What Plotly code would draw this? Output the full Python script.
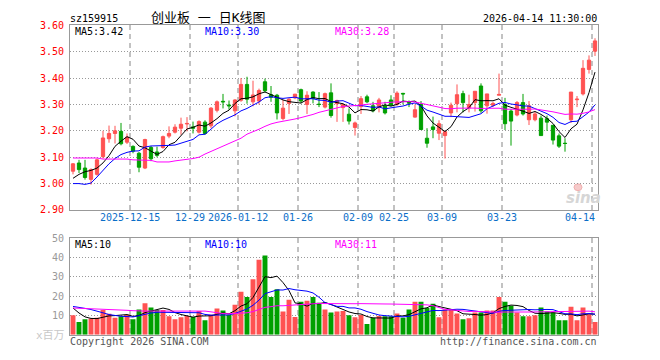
import plotly.graph_objects as go
import pandas as pd

W, H = 660, 360

dates = [
    "2025-12-01", "2025-12-02", "2025-12-03", "2025-12-04", "2025-12-05", "2025-12-08", "2025-12-09", "2025-12-10",
    "2025-12-11", "2025-12-12", "2025-12-15", "2025-12-16", "2025-12-17", "2025-12-18", "2025-12-19", "2025-12-22",
    "2025-12-23", "2025-12-24", "2025-12-25", "2025-12-26", "2025-12-29", "2025-12-30", "2025-12-31",
    "2026-01-05", "2026-01-06", "2026-01-07", "2026-01-08", "2026-01-09", "2026-01-12", "2026-01-13", "2026-01-14",
    "2026-01-15", "2026-01-16", "2026-01-19", "2026-01-20", "2026-01-21", "2026-01-22", "2026-01-23", "2026-01-26",
    "2026-01-27", "2026-01-28", "2026-01-29", "2026-01-30",
    "2026-02-02", "2026-02-03", "2026-02-04", "2026-02-05", "2026-02-06", "2026-02-09", "2026-02-10", "2026-02-11",
    "2026-02-12", "2026-02-13", "2026-02-24", "2026-02-25", "2026-02-26", "2026-02-27",
    "2026-03-02", "2026-03-03", "2026-03-04", "2026-03-05", "2026-03-06", "2026-03-09", "2026-03-10", "2026-03-11",
    "2026-03-12", "2026-03-13", "2026-03-16", "2026-03-17", "2026-03-18", "2026-03-19", "2026-03-20", "2026-03-23",
    "2026-03-24", "2026-03-25", "2026-03-26", "2026-03-27", "2026-03-30", "2026-03-31",
    "2026-04-01", "2026-04-02", "2026-04-03", "2026-04-07", "2026-04-08", "2026-04-09", "2026-04-10", "2026-04-13",
    "2026-04-14",
]

open_ = [3.047, 3.078, 3.059, 3.016, 3.035, 3.102, 3.170, 3.190, 3.198, 3.157,
         3.141, 3.115, 3.059, 3.137, 3.120, 3.137, 3.180, 3.195, 3.210, 3.226,
         3.215, 3.195, 3.233, 3.219, 3.278, 3.312, 3.298, 3.276, 3.316, 3.376,
         3.310, 3.313, 3.386, 3.337, 3.335, 3.247, 3.304, 3.325, 3.356, 3.300,
         3.347, 3.301, 3.290, 3.344, 3.303, 3.288, 3.263, 3.213, 3.292, 3.329,
         3.295, 3.289, 3.295, 3.317, 3.300, 3.342, 3.310, 3.252, 3.300, 3.172,
         3.215, 3.191, 3.182, 3.268, 3.303, 3.341, 3.287, 3.307, 3.370, 3.295,
         3.297, 3.335, 3.300, 3.275, 3.260, 3.307, 3.242, 3.242, 3.248, 3.246,
         3.221, 3.181, 3.153, 3.242, 3.318, 3.340, 3.433, 3.502]
high = [3.078, 3.090, 3.090, 3.058, 3.095, 3.200, 3.220, 3.219, 3.230, 3.190,
        3.145, 3.120, 3.170, 3.143, 3.140, 3.182, 3.217, 3.225, 3.250, 3.252,
        3.235, 3.240, 3.240, 3.290, 3.315, 3.340, 3.315, 3.320, 3.400, 3.405,
        3.390, 3.360, 3.398, 3.370, 3.340, 3.317, 3.323, 3.340, 3.360, 3.350,
        3.350, 3.347, 3.345, 3.380, 3.318, 3.300, 3.285, 3.235, 3.332, 3.337,
        3.310, 3.325, 3.310, 3.335, 3.350, 3.344, 3.315, 3.300, 3.313, 3.210,
        3.254, 3.240, 3.200, 3.307, 3.376, 3.352, 3.337, 3.350, 3.380, 3.340,
        3.310, 3.417, 3.325, 3.283, 3.313, 3.340, 3.313, 3.272, 3.258, 3.258,
        3.222, 3.190, 3.172, 3.347, 3.332, 3.468, 3.486, 3.551]
low = [3.035, 3.040, 3.015, 2.996, 3.030, 3.095, 3.155, 3.152, 3.145, 3.150,
       3.115, 3.043, 3.055, 3.085, 3.100, 3.132, 3.172, 3.190, 3.185, 3.198,
       3.190, 3.190, 3.185, 3.210, 3.270, 3.285, 3.280, 3.255, 3.310, 3.303,
       3.293, 3.300, 3.345, 3.310, 3.243, 3.240, 3.264, 3.320, 3.305, 3.264,
       3.304, 3.290, 3.285, 3.250, 3.234, 3.234, 3.224, 3.182, 3.264, 3.305,
       3.270, 3.270, 3.262, 3.295, 3.295, 3.300, 3.290, 3.250, 3.205, 3.136,
       3.172, 3.165, 3.095, 3.252, 3.270, 3.270, 3.270, 3.273, 3.268, 3.265,
       3.290, 3.335, 3.203, 3.144, 3.255, 3.258, 3.222, 3.236, 3.182, 3.200,
       3.148, 3.135, 3.121, 3.230, 3.290, 3.334, 3.417, 3.484]
close = [3.075, 3.053, 3.023, 3.053, 3.090, 3.173, 3.190, 3.200, 3.151, 3.176,
         3.123, 3.062, 3.167, 3.094, 3.107, 3.178, 3.190, 3.214, 3.225, 3.228,
         3.210, 3.235, 3.190, 3.286, 3.310, 3.310, 3.295, 3.317, 3.376, 3.320,
         3.336, 3.353, 3.352, 3.327, 3.268, 3.286, 3.320, 3.339, 3.313, 3.335,
         3.323, 3.300, 3.341, 3.258, 3.315, 3.300, 3.237, 3.230, 3.322, 3.310,
         3.276, 3.317, 3.268, 3.297, 3.343, 3.340, 3.305, 3.280, 3.205, 3.153,
         3.205, 3.227, 3.197, 3.297, 3.337, 3.307, 3.300, 3.350, 3.276, 3.340,
         3.304, 3.338, 3.227, 3.237, 3.307, 3.264, 3.295, 3.264, 3.182, 3.233,
         3.165, 3.142, 3.152, 3.347, 3.320, 3.437, 3.468, 3.541]
volume = [10.0, 6.5, 8.0, 8.3, 8.8, 12.7, 10.8, 8.7, 9.5, 10.3,
          8.0, 13.0, 16.2, 14.0, 12.8, 12.8, 9.5, 8.0, 9.0, 9.7,
          9.2, 12.2, 7.5, 10.3, 13.5, 12.5, 10.3, 15.5, 22.2, 19.5,
          28.7, 38.7, 41.0, 19.5, 23.5, 12.0, 18.0, 9.2, 17.0, 17.5,
          19.5, 16.5, 13.0, 11.5, 12.0, 12.2, 10.0, 9.0, 10.2, 5.5,
          8.7, 9.7, 9.5, 9.5, 11.0, 8.8, 13.0, 17.0, 17.0, 13.8,
          16.0, 9.0, 13.0, 13.0, 11.0, 8.0, 8.5, 11.5, 11.5, 12.5,
          12.5, 19.5, 17.0, 15.0, 11.5, 9.5, 9.5, 10.0, 14.0, 12.0,
          11.5, 7.5, 7.5, 14.5, 7.5, 14.0, 10.5, 6.5]

# moving-average values before a full window exists
ma5_head = [3.020, 3.035, 3.045, 3.050]
ma10_head = [3.000, 3.000, 2.997, 3.002, 3.025, 3.050, 3.075, 3.095, 3.110]
ma30_head = [3.097, 3.097, 3.097, 3.097, 3.097, 3.093, 3.093, 3.093, 3.093, 3.093,
             3.090, 3.090, 3.090, 3.088, 3.082, 3.082, 3.082, 3.086, 3.088, 3.092,
             3.095, 3.100, 3.112, 3.122, 3.135, 3.145, 3.155, 3.163, 3.172]
vma5_head = [13.8, 11.2, 9.2, 8.4]
vma10_head = [14.6, 14.2, 13.6, 13.0, 12.3, 11.3, 10.4, 9.8, 9.5]
vma30_head = [13.8, 13.7, 13.6, 13.5, 13.4, 13.3, 13.2, 13.1, 12.9, 12.6,
              12.4, 12.2, 12.2, 12.2, 12.2, 12.2, 12.2, 12.2, 12.2, 12.2,
              12.2, 12.2, 12.2, 11.8, 11.2, 10.9, 10.8, 11.0, 11.3]

tick_dates = ["2025-12-15", "2025-12-29", "2026-01-12", "2026-01-26", "2026-02-09",
              "2026-02-25", "2026-03-09", "2026-03-23", "2026-04-14"]
tick_labels = ["2025-12-15", "12-29", "2026-01-12", "01-26", "02-09", "02-25", "03-09", "03-23", "04-14"]

price_ticks = [2.90, 3.00, 3.10, 3.20, 3.30, 3.40, 3.50, 3.60]
vol_ticks = [10, 20, 30, 40, 50]

ma_labels = ["MA5:3.42", "MA10:3.30", "MA30:3.28"]
vma_labels = ["MA5:10", "MA10:10", "MA30:11"]

RED = "#ff5252"
GREEN = "#00a000"
MA_COLORS = ["#000000", "#0000ff", "#ff00ff"]


def rolling_with_head(values, n, head):
    s = pd.Series(values, dtype=float).rolling(n).mean()
    s.iloc[:len(head)] = head
    return s.tolist()


xs = list(range(len(dates)))
ma = [rolling_with_head(close, 5, ma5_head), rolling_with_head(close, 10, ma10_head),
      rolling_with_head(close, 30, ma30_head)]
vma = [rolling_with_head(volume, 5, vma5_head), rolling_with_head(volume, 10, vma10_head),
       rolling_with_head(volume, 30, vma30_head)]
bar_colors = [RED if c >= o else GREEN for o, c in zip(open_, close)]
grid_x = [dates.index(d) - 0.5 for d in tick_dates]

fig = go.Figure()
fig.add_trace(go.Candlestick(
    x=xs, open=open_, high=high, low=low, close=close,
    increasing=dict(line=dict(color=RED, width=1), fillcolor=RED),
    decreasing=dict(line=dict(color=GREEN, width=1), fillcolor=GREEN),
    whiskerwidth=0, hoverinfo="skip", xaxis="x", yaxis="y", showlegend=False))
for line, col in zip(ma, MA_COLORS):
    fig.add_trace(go.Scatter(x=xs, y=line, mode="lines", line=dict(color=col, width=1),
                             hoverinfo="skip", xaxis="x", yaxis="y", showlegend=False))
fig.add_trace(go.Bar(x=xs, y=volume, marker=dict(color=bar_colors, line=dict(width=0)),
                     width=0.82, hoverinfo="skip", xaxis="x2", yaxis="y2", showlegend=False))
for line, col in zip(vma, MA_COLORS):
    fig.add_trace(go.Scatter(x=xs, y=line, mode="lines", line=dict(color=col, width=1),
                             hoverinfo="skip", xaxis="x2", yaxis="y2", showlegend=False))

MONO = "DejaVu Sans Mono"
xdom = [70 / W, 598 / W]


def py(v):
    return 1 - v / H


xaxis_common = dict(
    domain=xdom, range=[-0.5, len(dates) - 0.5], tickvals=grid_x, showticklabels=False,
    ticks="", showgrid=True, gridcolor="#c2c2c2", gridwidth=2, griddash="5px,4px",
    zeroline=False, showline=True, mirror=True, linecolor="#999999", linewidth=1,
    fixedrange=True)

fig.update_layout(
    width=W, height=H, margin=dict(l=0, r=0, t=0, b=0),
    paper_bgcolor="white", plot_bgcolor="white", boxgap=0.22,
    xaxis=dict(**xaxis_common, anchor="y", rangeslider=dict(visible=False)),
    xaxis2=dict(**xaxis_common, anchor="y2"),
    yaxis=dict(domain=[py(211), py(20)], range=[2.90, 3.60], tickvals=price_ticks,
               ticktext=[f"{v:.2f}" for v in price_ticks],
               tickfont=dict(family=MONO, size=10, color="#ff0000"), ticks="",
               ticklabelstandoff=3, showgrid=True, gridcolor="#999999", griddash="1px,2px",
               zeroline=False, showline=True, mirror=True, linecolor="#999999", linewidth=1,
               anchor="x"),
    yaxis2=dict(domain=[py(340), py(240)], range=[0, 50], tickvals=vol_ticks,
                ticktext=[str(v) for v in vol_ticks],
                tickfont=dict(family=MONO, size=10, color="#999999"), ticks="",
                ticklabelstandoff=3, showgrid=True, gridcolor="#999999", griddash="1px,2px",
                zeroline=False, showline=True, mirror=True, linecolor="#999999", linewidth=1,
                anchor="x2"),
)

ann = []


def add_text(text, x, y, xanchor="left", color="#000000", size=10, family=MONO, xref="paper", **kw):
    ann.append(dict(text=text, x=x, y=py(y), xref=xref, yref="paper", xanchor=xanchor,
                    yanchor="middle", showarrow=False, borderpad=0,
                    font=dict(family=family, size=size, color=color, **kw)))


add_text("sz159915", 69 / W, 13, size=10)
add_text("创业板 一 日K线图", 150 / W, 12, size=13, family="DejaVu Sans Mono, Noto Sans CJK SC")
add_text("2026-04-14 11:30:00", 598 / W, 13, xanchor="right", size=10)

ma_x = [74, 204, 334]
for lab, xp, col in zip(ma_labels, ma_x, MA_COLORS):
    add_text(lab, xp / W, 26, color=col)
for lab, xp, col in zip(vma_labels, ma_x, MA_COLORS):
    add_text(lab, xp / W, 247, color=col)

for gx, lab in zip(grid_x, tick_labels):
    if gx > len(dates) - 3:
        add_text(lab, 596 / W, 219, xanchor="right", color="#0a6ec8")
    else:
        add_text(lab, gx, 219, xanchor="center", color="#0a6ec8", xref="x")

add_text("x百万", 66 / W, 341, xanchor="right", color="#c8c8c8", size=11,
         family="DejaVu Sans Mono, Noto Sans CJK SC")
add_text("Copyright 2026 SINA.COM", 69 / W, 347, color="#555555")
add_text("http://finance.sina.com.cn", 598 / W, 347, xanchor="right", color="#555555")
add_text("sina", 583 / W, 199, xanchor="center", color="#d6d6d6", size=15,
         family="DejaVu Sans", weight="bold", style="italic")

# small pink "eye" of the watermark logo, drawn as a shape
fig.add_shape(type="circle", xref="paper", yref="paper",
              x0=574 / W, x1=582 / W, y0=py(191), y1=py(184),
              fillcolor="#f6caca", line=dict(color="#f0b0b0", width=1), layer="below")

fig.update_layout(annotations=ann)
fig.write_html("out.html")
